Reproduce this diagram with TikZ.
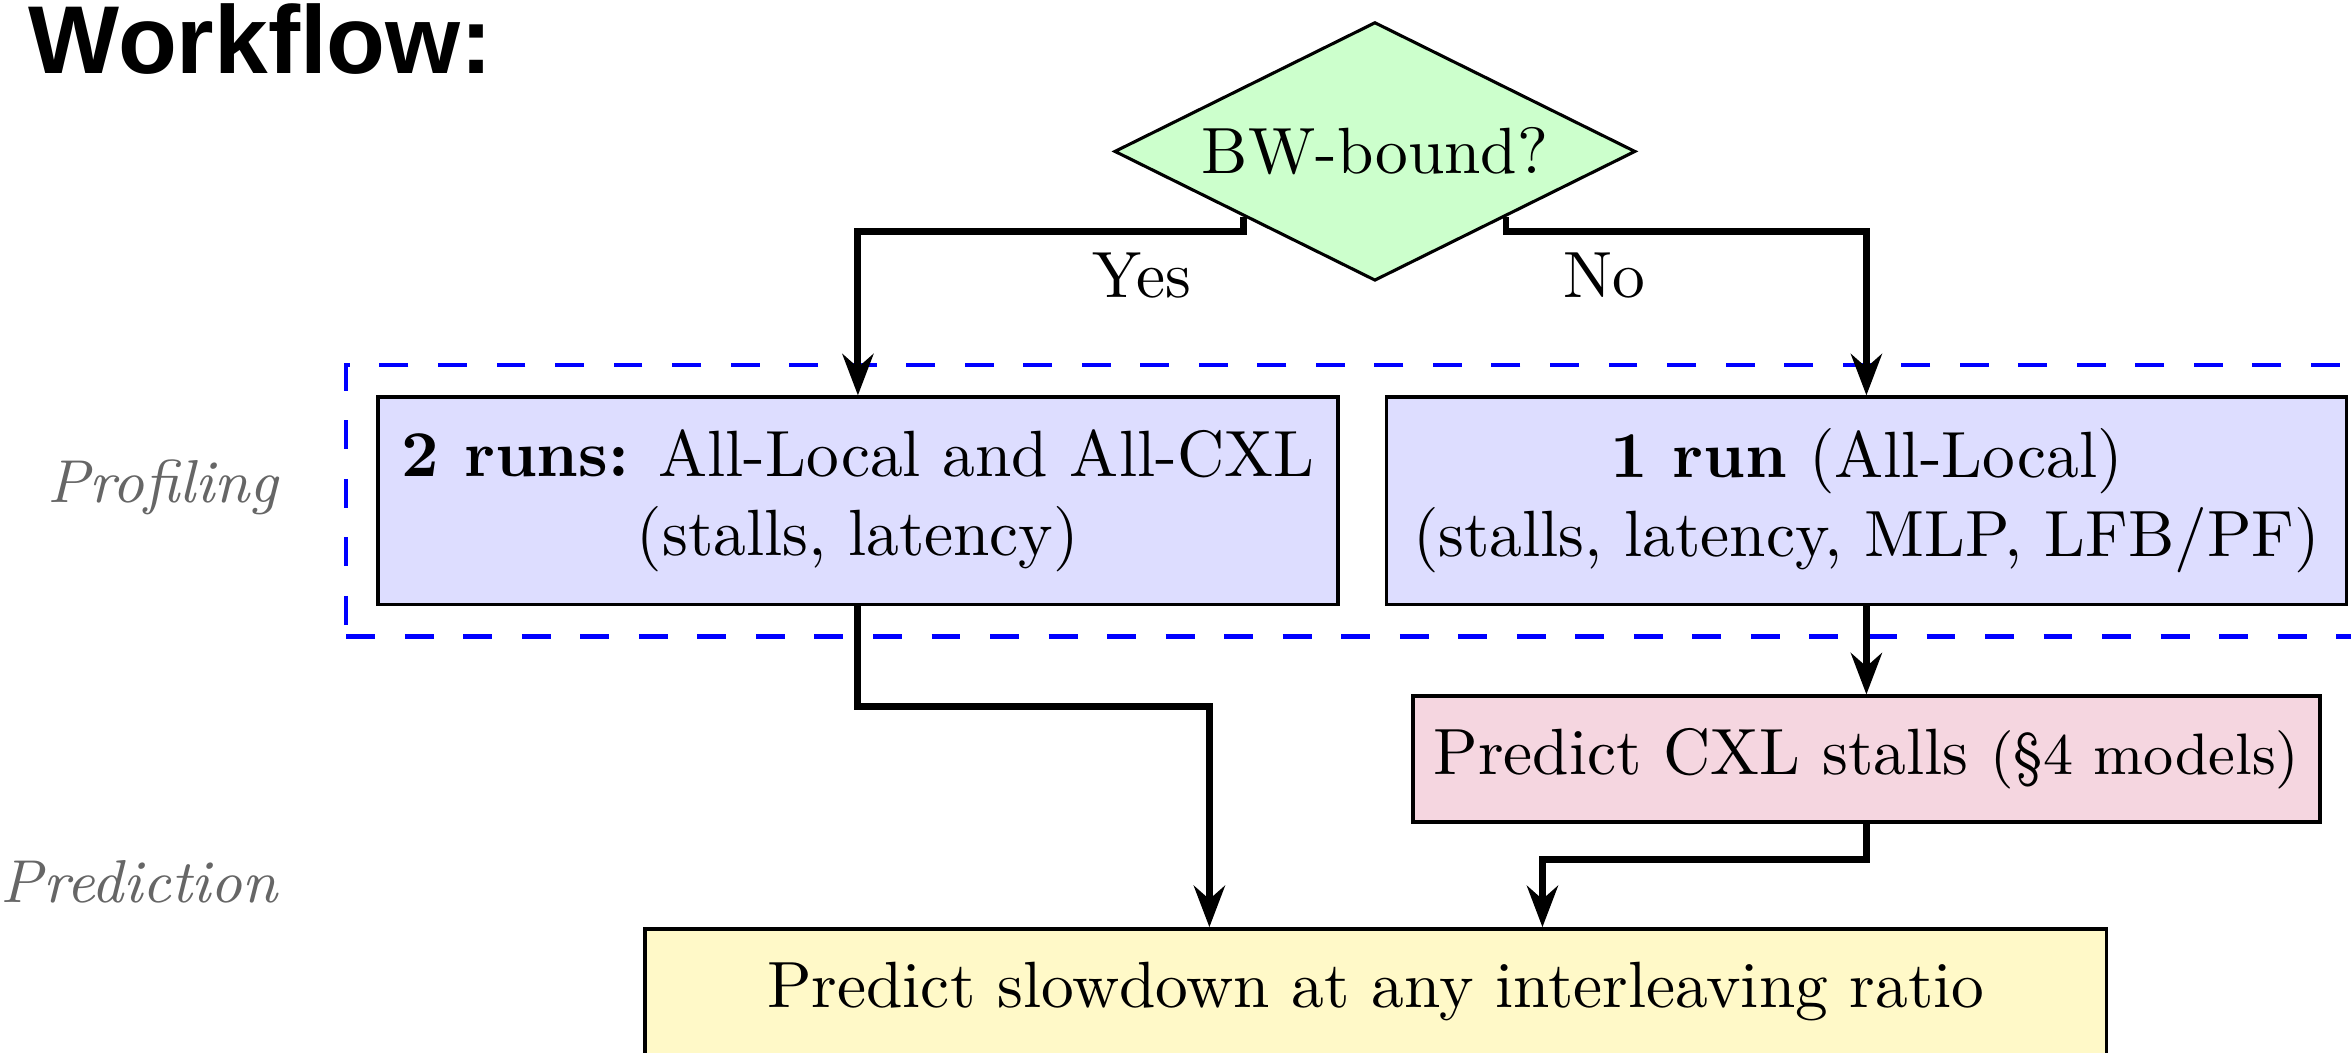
\documentclass[tikz,border=0pt]{standalone}
\usepackage{fontspec}
\usepackage{tikz}
\usetikzlibrary{arrows.meta,positioning,calc,fit,shapes.geometric}
\newfontfamily\headfont{Liberation Sans}
\definecolor{decgreen}{HTML}{CCFFCC}
\definecolor{runblue}{HTML}{DDDDFF}
\definecolor{predpink}{HTML}{F5D6E0}
\definecolor{outyellow}{HTML}{FFF9C8}
\tikzset{
  decide/.style={diamond,aspect=2,draw,line width=0.45pt,fill=decgreen,inner sep=0pt,
    minimum width=2.66cm,minimum height=1.32cm},
  runbox/.style={draw,line width=0.5pt,fill=runblue,align=center,inner sep=2pt,
    minimum width=4.9cm,minimum height=1.06cm},
  predbox/.style={runbox,fill=predpink,minimum width=4.63cm,minimum height=0.643cm},
  outbox/.style={runbox,fill=outyellow,minimum width=7.46cm,minimum height=0.643cm},
  flow/.style={-{Stealth[length=6pt,width=4.5pt]},line width=1pt},
  branch/.style={inner sep=0pt},
  % --- the two phases on the left ---
  phase/.style={anchor=base east,inner sep=0pt,text=black!60,font=\fontsize{8.8}{10.5}\selectfont\itshape},
  stage/.style={draw=blue,line width=0.6pt,dash pattern=on 4.2pt off 4.3pt,inner sep=4.35pt},
}
\begin{document}
\begin{tikzpicture}[font=\fontsize{9.5}{11.5}\selectfont]
  \useasboundingbox (0,0) rectangle (12,-5.3747);
  \node[anchor=base west,inner sep=0pt,font=\headfont\bfseries\fontsize{14}{16}\selectfont](title) at (0.14,-0.373){Workflow:};
  \node[decide](bw) at (7.018,-0.773){BW-bound?};
  \node[runbox](runs2) at (4.379,-2.557){\textbf{2 runs:} All-Local and All-CXL\\(stalls, latency)};
  \node[runbox,right=0.23cm of runs2](run1){\textbf{1 run} (All-Local)\\(stalls, latency, MLP, LFB/PF)};
  \node[predbox,below=0.449cm of run1](predcxl){Predict CXL stalls {\fontsize{8.5}{10}\selectfont(\S4 models)}};
  \node[outbox](slow) at (7.023,-5.063){Predict slowdown at any interleaving ratio};
  \node[stage,fit=(runs2)(run1)](prof){};
  \node[phase](proflab) at (1.424,-2.567){Profiling};
  \node[phase](predlab) at (1.424,-4.609){Prediction};
  \draw[flow](bw.south west)--++(0,-0.076)-|(runs2.north);
  \draw[flow](bw.south east)--++(0,-0.076)-|(run1.north);
  \node[branch](yes) at (5.829,-1.404){Yes};
  \node[branch](no) at (8.187,-1.404){No};
  \draw[flow](run1.south)--(predcxl.north);
  \coordinate (inl) at ($(slow.north)+(-0.85,0)$);
  \coordinate (inr) at ($(slow.north)+(0.85,0)$);
  \draw[flow](runs2.south)--++(0,-0.51)-|(inl);
  \draw[flow](predcxl.south)--++(0,-0.18)-|(inr);
\end{tikzpicture}
\end{document}
